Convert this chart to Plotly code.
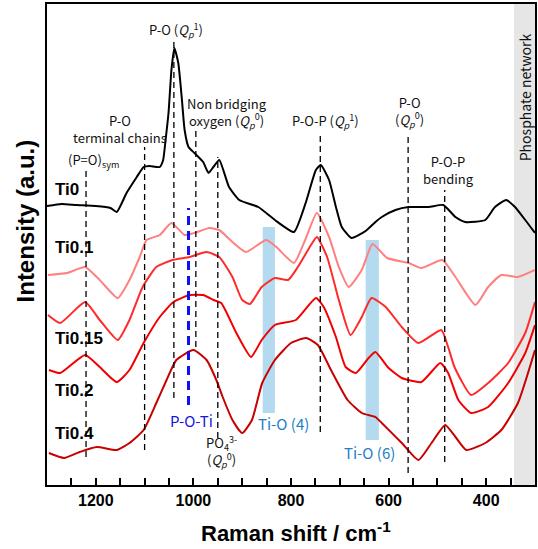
import plotly.graph_objects as go

# ---------------- data ----------------
TI0_X = [1300, 1270, 1240, 1200, 1170, 1157, 1137, 1116, 1102, 1090, 1069, 1062, 1057, 1051, 1045,
         1039, 1031, 1024, 1018, 1010, 998, 980, 969, 959, 947, 927, 906, 867, 833, 794, 770, 749,
         739, 722, 708, 696, 676, 647, 627, 614, 586, 559, 518, 488, 463, 443, 402, 382, 359, 341,
         320, 300]
TI0_Y = [279, 281, 280, 279, 277, 273, 292, 308, 318, 319, 318, 325, 345, 372, 415,
         437, 422, 388, 355, 338, 332, 323, 312, 318, 325, 298, 285, 278, 265, 253, 282, 315,
         320, 305, 278, 258, 247, 254, 263, 268, 275, 278, 278, 280, 268, 263, 265, 278, 285, 278,
         265, 252]

TI01_X = [1298, 1259, 1222, 1192, 1155, 1131, 1110, 1096, 1069, 1045, 1018, 998, 967, 947, 920,
          892, 851, 830, 794, 771, 747, 722, 702, 682, 655, 633, 603, 559, 533, 490, 463, 422,
          396, 369, 335, 300]
TI01_Y = [210, 212, 218, 205, 187, 205, 228, 245, 250, 262, 250, 252, 257, 255, 243,
          233, 245, 238, 222, 245, 272, 248, 218, 198, 215, 241, 227, 222, 217, 225, 208, 180,
          198, 210, 208, 215]

TI015_X = [1298, 1273, 1222, 1192, 1155, 1131, 1104, 1076, 1043, 1008, 973, 947, 920, 900, 884,
           860, 833, 806, 786, 759, 747, 726, 702, 678, 655, 635, 606, 573, 539, 492, 478, 465,
           431, 396, 355, 320, 300]
TI015_Y = [170, 162, 183, 165, 145, 165, 198, 218, 225, 228, 233, 228, 208, 185, 181,
           198, 207, 205, 218, 240, 248, 228, 185, 150, 168, 187, 178, 158, 142, 155, 138, 118,
           90, 102, 122, 152, 183]

TI02_X = [1296, 1273, 1222, 1192, 1157, 1131, 1102, 1069, 1041, 1008, 980, 959, 943, 912, 882,
          860, 833, 790, 749, 733, 708, 688, 667, 641, 627, 600, 573, 533, 494, 478, 457, 431,
          396, 355, 320, 300]
TI02_Y = [115, 112, 130, 118, 103, 115, 142, 168, 183, 190, 190, 185, 182, 152, 128,
          145, 160, 165, 187, 178, 148, 118, 112, 127, 133, 117, 107, 103, 122, 112, 85, 72,
          78, 102, 132, 160]

TI04_X = [1296, 1265, 1233, 1198, 1157, 1131, 1102, 1076, 1055, 1035, 1000, 973, 953, 940, 920,
          900, 880, 859, 833, 800, 769, 745, 718, 684, 655, 627, 614, 573, 539, 512, 484, 463,
          441, 402, 369, 335, 300]
TI04_Y = [32, 27, 33, 38, 35, 42, 55, 82, 105, 125, 135, 125, 105, 88, 65,
          52, 65, 102, 125, 142, 147, 140, 115, 85, 72, 68, 62, 42, 25, 42, 60, 48,
          35, 42, 55, 82, 135]

SAMPLES = ["Ti0", "Ti0.1", "Ti0.15", "Ti0.2", "Ti0.4"]
SERIES_X = [TI0_X, TI01_X, TI015_X, TI02_X, TI04_X]
SERIES_Y = [TI0_Y, TI01_Y, TI015_Y, TI02_Y, TI04_Y]
COLORS = ["#000000", "#FF8080", "#FF2A2A", "#F20000", "#C80000"]
LABEL_Y = [296, 238, 147, 95, 52]

X_TICKS = [1200, 1000, 800, 600, 400]

# band assignments: (position, top, bottom) in the chart's own units
ASSIGN_LINES = [(1220, 315, 28), (1100, 338, 35), (1040, 447, 87), (995, 358, 138),
                (950, 328, 47), (740, 352, 53), (560, 352, 12), (485, 295, 23)]
POTI_LINE = (1010, 277, 80)
TIO_BANDS = [(833, 858, 258, 72), (620, 647, 245, 45)]
NETWORK_BAND = (300, 343)

# ---------------- figure ----------------
fig = go.Figure()
for name, xs, ys, c in zip(SAMPLES, SERIES_X, SERIES_Y, COLORS):
    fig.add_trace(go.Scatter(x=xs, y=ys, mode="lines", name=name,
                             line=dict(color=c, width=2, shape="spline", smoothing=0.5),
                             showlegend=False, hoverinfo="skip"))

shapes = []
shapes.append(dict(type="rect", xref="x", yref="paper", x0=NETWORK_BAND[0], x1=NETWORK_BAND[1],
                   y0=0, y1=1, fillcolor="#E6E6E6", line=dict(width=0), layer="below"))
for x0, x1, yt, yb in TIO_BANDS:
    shapes.append(dict(type="rect", xref="x", yref="y", x0=x0, x1=x1, y0=yb, y1=yt,
                       fillcolor="#B3DAEF", line=dict(width=0), layer="below"))
for x, yt, yb in ASSIGN_LINES:
    shapes.append(dict(type="line", xref="x", yref="y", x0=x, x1=x, y0=yb, y1=yt,
                       line=dict(color="black", width=1.3, dash="6px,4px")))
shapes.append(dict(type="line", xref="x", yref="y", x0=POTI_LINE[0], x1=POTI_LINE[0],
                   y0=POTI_LINE[2], y1=POTI_LINE[1],
                   line=dict(color="#1010F0", width=3, dash="9px,6px")))

ANN_FONT = "Noto Sans CJK JP, Noto Sans, sans-serif"
ann = []


def txt(x, y, s, size=13, color="#111111", family=ANN_FONT, **kw):
    d = dict(x=x, y=y, xref="x", yref="y", text=s, showarrow=False, xanchor="center",
             yanchor="middle", font=dict(size=size, color=color, family=family))
    d.update(kw)
    ann.append(d)


Qp1 = "<i>Q<sub>p</sub></i><sup>1</sup>"
Qp0 = "<i>Q<sub>p</sub></i><sup>0</sup>"
txt(1035, 455, "P-O (" + Qp1 + ")")
txt(1150, 356, "P-O<br>terminal chains")
txt(1204, 325, "(P=O)<sub>sym</sub>")
txt(932, 372, "Non bridging<br>oxygen (" + Qp0 + ")")
txt(729, 364, "P-O-P (" + Qp1 + ")")
txt(557, 373, "P-O<br>(" + Qp0 + ")")
txt(478, 315, "P-O-P<br>bending")
txt(320, 388, "Phosphate network", size=14, textangle=-90)
txt(1004, 65, "P-O-Ti", size=15, color="#1414E6")
txt(943, 34, "PO<sub>4</sub><sup>3-</sup><br>(" + Qp0 + ")")
txt(816, 62, "Ti-O (4)", size=15, color="#2080C8")
txt(639, 33, "Ti-O (6)", size=15, color="#2080C8")
for name, yl in zip(SAMPLES, LABEL_Y):
    txt(1288, yl, "<b>" + name + "</b>", size=17, color="black",
        family="Liberation Sans, Arial, sans-serif", xanchor="left")

# axis titles
ann.append(dict(x=0.51, y=-0.098, xref="paper", yref="paper", showarrow=False,
                text="<b>Raman shift / cm<sup>-1</sup></b>", xanchor="center", yanchor="middle",
                font=dict(size=22, color="black", family="Liberation Sans, Arial, sans-serif")))
ann.append(dict(x=-0.045, y=0.548, xref="paper", yref="paper", showarrow=False,
                text="<b>Intensity (a.u.)</b>", textangle=-90, xanchor="center", yanchor="middle",
                font=dict(size=24, color="black", family="Liberation Sans, Arial, sans-serif")))

fig.update_layout(
    width=538, height=549,
    margin=dict(l=47, r=1, t=4, b=64),
    plot_bgcolor="white", paper_bgcolor="white",
    shapes=shapes, annotations=ann,
    xaxis=dict(range=[1300, 300], tickvals=X_TICKS, ticktext=[str(v) for v in X_TICKS],
               ticks="inside", ticklen=7, tickwidth=2, tickcolor="black",
               minor=dict(dtick=50, tick0=0, ticks="inside", ticklen=7, tickwidth=2,
                          tickcolor="black"),
               showline=True, linewidth=2, linecolor="black", mirror=True,
               showgrid=False, zeroline=False,
               tickfont=dict(size=16, color="black", family="Liberation Sans, Arial, sans-serif",
                             weight="bold")),
    yaxis=dict(range=[0, 481], showticklabels=False, ticks="",
               showline=True, linewidth=2, linecolor="black", mirror=True,
               showgrid=False, zeroline=False),
)

fig.write_html("out.html", config={"displayModeBar": False},
               post_script="document.body.style.margin='0';document.body.style.overflow='hidden';")
